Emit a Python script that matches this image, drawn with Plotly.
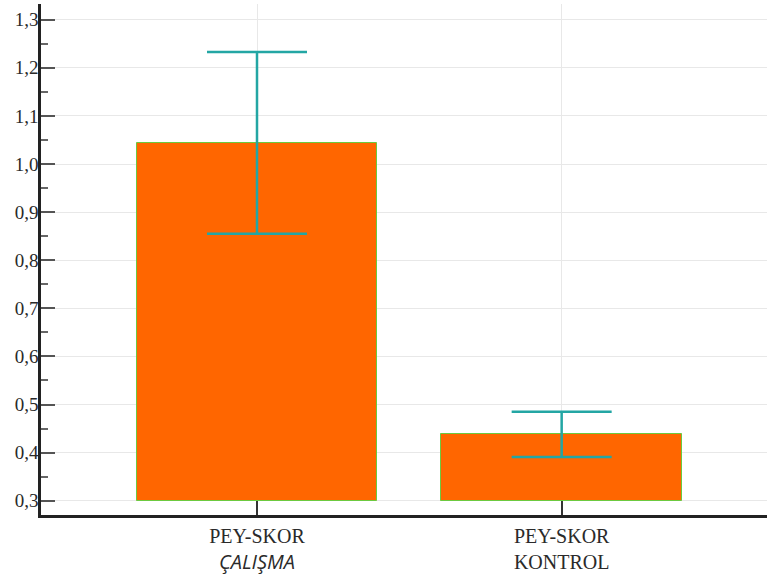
import plotly.graph_objects as go

# Group labels and summary statistics (mean ± error)
groups = ["PEY-SKOR ÇALIŞMA", "PEY-SKOR KONTROL"]
group_line1 = ["PEY-SKOR", "PEY-SKOR"]
group_line2 = ["<i><span style=\"font-family:'Open Sans'\">ÇALIŞMA</span></i>", "KONTROL"]
means = [1.044, 0.438]
errors = [0.189, 0.047]
base_value = 0.3

y_ticks = [0.3, 0.4, 0.5, 0.6, 0.7, 0.8, 0.9, 1.0, 1.1, 1.2, 1.3]

positions = list(range(len(groups)))
tick_text = [f"{a}<br>{b}" for a, b in zip(group_line1, group_line2)]

fig = go.Figure()
fig.add_trace(go.Bar(
    x=positions,
    y=[m - base_value for m in means],
    base=[base_value] * len(means),
    width=0.79,
    marker=dict(color="#FF6600", line=dict(color="#6CC940", width=1)),
    error_y=dict(type="data", array=errors, visible=True,
                 color="#23A6A4", thickness=2.5, width=50),
    name="",
    hovertext=groups,
))

serif = "Liberation Serif, Times New Roman, serif"

fig.update_layout(
    width=767, height=578,
    margin=dict(l=41, r=0, t=4, b=63),
    plot_bgcolor="white", paper_bgcolor="white",
    separators=",.",
    showlegend=False,
    bargap=0,
    font=dict(family=serif, size=19, color="#2A2A2A"),
)

fig.update_xaxes(
    range=[-0.709, 1.674],
    tickvals=positions, ticktext=tick_text,
    ticks="inside", ticklen=14, tickwidth=1.5, tickcolor="#333333",
    showgrid=True, gridcolor="#E8E8E8", gridwidth=1,
    showline=True, linecolor="#222222", linewidth=2.5,
    zeroline=False,
    ticklabelstandoff=1,
    tickfont=dict(family=serif, size=20, color="#2A2A2A"),
)

fig.update_yaxes(
    range=[0.2703, 1.3327],
    tickvals=y_ticks, tickformat=".1f",
    ticks="inside", ticklen=14, tickwidth=2, tickcolor="#555555",
    minor=dict(dtick=0.05, tick0=0.3, ticks="inside", ticklen=7,
               tickwidth=1.5, tickcolor="#666666", showgrid=False),
    showgrid=True, gridcolor="#E8E8E8", gridwidth=1,
    showline=True, linecolor="#222222", linewidth=2.5,
    zeroline=False,
    ticklabelstandoff=-4,
    tickfont=dict(family=serif, size=19, color="#2A2A2A"),
)

fig.write_html("out.html")
